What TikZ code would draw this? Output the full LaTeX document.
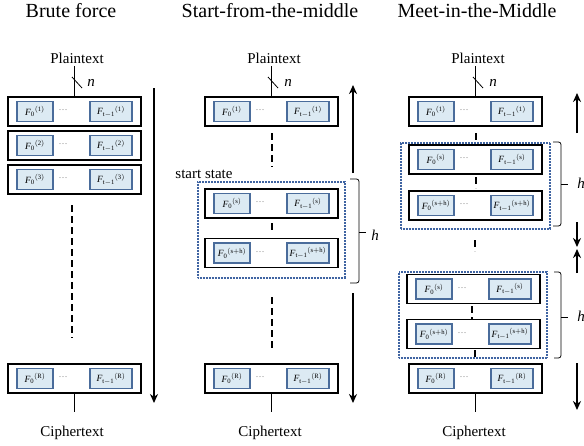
\documentclass[tikz,border=0pt]{standalone}
\usepackage{fontspec}
\setmainfont{Liberation Serif}
\usetikzlibrary{arrows.meta}
\definecolor{fbfill}{HTML}{DCEAF3}
\definecolor{fbdraw}{HTML}{4A6C9B}
\definecolor{dotblue}{HTML}{3F64A2}
\newcommand{\Fz}[1]{$\mathit{F}_{\mathrm{0}}{}^{\mathrm{(#1)}}$}
\newcommand{\Ft}[1]{$\mathit{F}_{\mathrm{t}-\mathrm{1}}{}^{\mathrm{(#1)}}$}
\newcommand{\myrow}[4]{%
  \node[rowbox] (#1) at (#2,#3) {};
  \node[fzbox] (#1a) at ([xshift=-39.5pt]#1.center) {\Fz{#4}};
  \node[ftbox] (#1b) at ([xshift=36.5pt]#1.center) {\Ft{#4}};
  \node[dotsnode] (#1d) at ([xshift=-11.5pt,yshift=1pt]#1.center) {\ldots};
}
\tikzset{
  rowbox/.style={draw=black, line width=1.5pt, fill=white, minimum width=133pt, minimum height=29pt, inner sep=0pt},
  fbox/.style={draw=fbdraw, fill=fbfill, line width=1.3pt, minimum height=20pt, inner sep=0pt, font=\fontsize{9.5}{10}\selectfont},
  fzbox/.style={fbox, minimum width=36pt},
  ftbox/.style={fbox, minimum width=42pt},
  dotsnode/.style={inner sep=0pt, text=gray, font=\fontsize{9}{10}\selectfont},
  title/.style={anchor=base, inner sep=0pt, font=\fontsize{20}{24}\selectfont},
  lbl/.style={anchor=base, inner sep=1pt, font=\fontsize{15}{18}\selectfont},
  ilbl/.style={lbl, font=\fontsize{15}{18}\selectfont\itshape},
  vardash/.style={line width=2.5pt, dash pattern=on 7pt off 4pt},
  dotbox/.style={draw=dotblue, line width=2pt, dash pattern=on 0.8pt off 0.7pt, inner sep=0pt},
  bigarrow/.style={line width=2pt, -{Stealth[length=9pt,width=8pt]}},
  bracket/.style={line width=0.8pt, rounded corners=2.5pt},
  thinline/.style={line width=0.8pt},
}
\begin{document}
\begin{tikzpicture}[x=1pt,y=-1pt]
\useasboundingbox (0,0) rectangle (584,445);

% titles
\node[title] (t1) at (71,17) {Brute force};
\node[title] (t2) at (270,17) {Start-from-the-middle};
\node[title] (t3) at (477,17) {Meet-in-the-Middle};

% ===== column 1 =====
\node[lbl] (p1) at (77,63) {Plaintext};
\myrow{a1}{74.5}{111.5}{1}
\myrow{a2}{74.5}{145.5}{2}
\myrow{a3}{74.5}{179.5}{3}
\myrow{aR}{74.5}{378.5}{R}
\draw[thinline] (a1.north) -- ([yshift=-2pt]a1.north |- p1.south);
\draw[thinline] (72,77) -- (82,88);
\node[ilbl] (n1) at (91,86) {n};
\draw[vardash] (72,205) -- (72,338);
\node[lbl] (c1) at (72,436) {Ciphertext};
\draw[thinline] (aR.south) -- ([yshift=12pt]aR.south |- c1.north);
\draw[bigarrow] (154,88) -- (154,403);

% ===== column 2 =====
\node[lbl] (p2) at (274,63) {Plaintext};
\node[dotbox, minimum width=147pt, minimum height=96pt] (sbox) at (271.5,230) {};
\myrow{b1}{271.5}{111.5}{1}
\myrow{bs}{271.5}{203.5}{s}
\myrow{bh}{271.5}{253}{s+h}
\myrow{bR}{271.5}{378.5}{R}
\draw[thinline] (b1.north) -- ([yshift=-2pt]b1.north |- p2.south);
\draw[thinline] (268,77) -- (278,88);
\node[ilbl] (n2) at (288,86) {n};
\node[lbl] (ss) at (204,178) {start state};
\draw[vardash] (272,133) -- (272,167);
\draw[vardash] (272,223) -- (272,233);
\draw[vardash] (272,297) -- (272,348);
\node[lbl] (c2) at (270,436) {Ciphertext};
\draw[thinline] (bR.south) -- ([yshift=12pt]bR.south |- c2.north);
\draw[bracket] (350,179) -- (359,179) -- (359,283) -- (350,283);
\draw[thinline] (359,232) -- (366,232);
\node[ilbl] (h2) at (375,240) {h};
\draw[bigarrow] (353,173) -- (353,85);
\draw[bigarrow] (353,293) -- (353,403);

% ===== column 3 =====
\node[lbl] (p3) at (478,63) {Plaintext};
\node[dotbox, minimum width=149pt, minimum height=86pt] (mbox1) at (475.5,185.5) {};
\node[dotbox, minimum width=148pt, minimum height=86pt] (mbox2) at (473,315) {};
\myrow{c1r}{475.5}{111.5}{1}
\myrow{csr}{475.5}{159.5}{s}
\myrow{chr}{475.5}{205.5}{s+h}
\myrow{dsr}{473.5}{289}{s}
\myrow{dhr}{473.5}{334}{s+h}
\myrow{cRr}{475.5}{378.5}{R}
\draw[thinline] (c1r.north) -- ([yshift=-2pt]c1r.north |- p3.south);
\draw[thinline] (473,77) -- (483,88);
\node[ilbl] (n3) at (493,86) {n};
\draw[vardash] (476,133) -- (476,143);
\draw[vardash] (476,177) -- (476,188);
\draw[vardash] (475,240) -- (475,251);
\draw[vardash] (472,306) -- (472,319);
\draw[vardash] (475,350) -- (475,358);
\node[lbl] (c3) at (474,436) {Ciphertext};
\draw[thinline] (cRr.south) -- ([yshift=12pt]cRr.south |- c3.north);
\draw[bracket] (553,142) -- (561,142) -- (561,226) -- (553,226);
\draw[thinline] (561,184) -- (568,184);
\node[ilbl] (h3a) at (581,188) {h};
\draw[bracket] (554,272) -- (561,272) -- (561,358) -- (554,358);
\draw[thinline] (561,317) -- (568,317);
\node[ilbl] (h3b) at (581,321) {h};
\draw[bigarrow] (577,133) -- (577,93);
\draw[bigarrow] (577,222) -- (577,247);
\draw[bigarrow] (577,273) -- (577,249);
\draw[bigarrow] (577,363) -- (577,410);
\end{tikzpicture}
\end{document}
